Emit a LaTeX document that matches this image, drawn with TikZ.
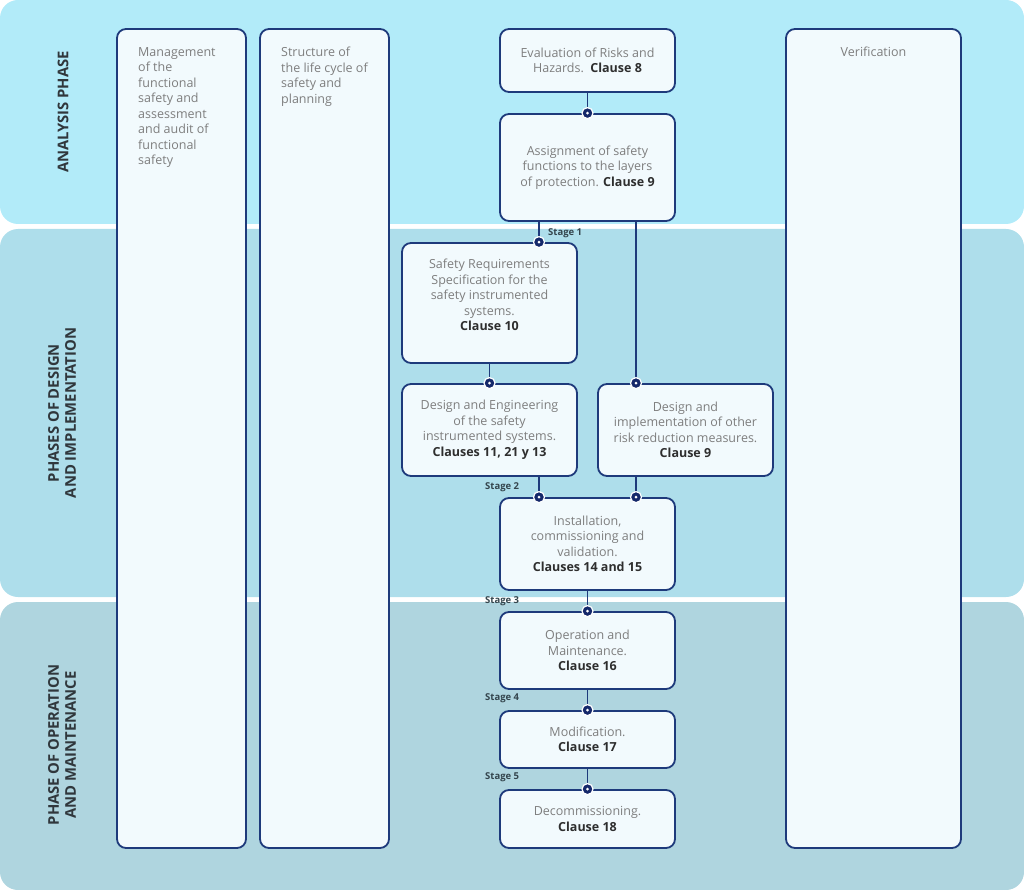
\documentclass[tikz,border=0pt]{standalone}
\usepackage{fontspec}
\setmainfont{Open Sans}
\usepackage{tikz}
\definecolor{bandA}{HTML}{B2EBF9}
\definecolor{bandB}{HTML}{AEDEEB}
\definecolor{bandC}{HTML}{AFD5DF}
\definecolor{boxfill}{HTML}{F2FAFD}
\definecolor{frame}{HTML}{1E3A7B}
\definecolor{dotblue}{HTML}{14286A}
\definecolor{bodygray}{HTML}{7E7E7E}
\definecolor{clausegray}{HTML}{2E2E2E}
\definecolor{stagegray}{HTML}{34454D}
\definecolor{phasegray}{HTML}{30373C}
\tikzset{
  band/.style     = {rounded corners=18pt},
  colbox/.style   = {draw=frame,fill=boxfill,line width=1.8pt,rounded corners=9pt,inner sep=0pt},
  flowbox/.style  = {colbox,minimum width=175pt,align=center,text=bodygray,
                     font=\fontsize{12.5}{15.5}\selectfont},
  bodytext/.style = {align=center,inner sep=0pt,text=bodygray,font=\fontsize{12.5}{15.5}\selectfont},
  coltext/.style  = {anchor=north west,align=left,inner sep=0pt,text=bodygray,
                     font=\fontsize{12.5}{15.5}\selectfont},
  link/.style     = {draw=frame,line width=1.2pt},
  dot/.style      = {circle,fill=dotblue,draw=white,line width=1.2pt,minimum size=11pt,inner sep=0pt,
                     path picture={\fill[white] (path picture bounding box.center) circle (1.5pt);}},
  stagelbl/.style = {anchor=west,inner sep=0pt,text=stagegray,font=\bfseries\fontsize{9.5}{10}\selectfont},
  phaselbl/.style = {rotate=90,align=center,inner sep=0pt,text=phasegray,
                     font=\bfseries\fontsize{14.8}{17}\selectfont}
}
\newcommand{\clause}[1]{\textbf{\textcolor{clausegray}{#1}}}

\begin{document}
\begin{tikzpicture}[x=1pt,y=-1pt]
  \useasboundingbox (0,0) rectangle (1024,890);
  % phase bands
  \fill[bandA,band] (0,0)   rectangle (1024,224);
  \fill[bandB,band] (0,229) rectangle (1024,597);
  \fill[bandC,band] (0,602) rectangle (1024,890);
  \node[phaselbl] (phaseA) at (63,112) {ANALYSIS PHASE};
  \node[phaselbl] (phaseB) at (62,413) {PHASES OF DESIGN\\AND IMPLEMENTATION};
  \node[phaselbl] (phaseC) at (62,745) {PHASE OF OPERATION\\AND MAINTENANCE};

  % tall columns
  \node[colbox,minimum width=129pt,minimum height=819pt] (mgmt)   at (181.5,438.5) {};
  \node[colbox,minimum width=129pt,minimum height=819pt] (struct) at (324.5,438.5) {};
  \node[colbox,minimum width=175pt,minimum height=819pt] (verif)  at (873.5,438.5) {};
  \node[coltext] (mgmttext)   at (138,47) {Management\\of the\\functional\\safety and\\assessment\\and audit of\\functional\\safety};
  \node[coltext] (structtext) at (281,47) {Structure of\\the life cycle of\\safety and\\planning};
  \node[bodytext] (veriftext) at (873.5,52) {Verification};

  % flow
  \node[flowbox,minimum height=63pt]  (eval)     at (587.5,60.5)  {Evaluation of Risks and\\Hazards.\ \ \clause{Clause 8}};
  \node[flowbox,minimum height=107pt] (assign)   at (587.5,167.5) {Assignment of safety\\functions to the layers\\of protection. \clause{Clause 9}};
  \node[flowbox,minimum height=120pt] (srs)      at (489.5,303)   {};
  \node[bodytext] (srstext) at (489.5,295) {Safety Requirements\\Specification for the\\safety instrumented\\systems.\\\clause{Clause 10}};
  \node[flowbox,minimum height=92pt]  (deseng)   at (489.5,430)   {Design and Engineering\\of the safety\\instrumented systems.\\\clause{Clauses 11, 21 y 13}};
  \node[flowbox,minimum height=92pt]  (desother) at (685.5,430)   {Design and\\implementation of other\\risk reduction measures.\\\clause{Clause 9}};
  \node[flowbox,minimum height=92pt]  (install)  at (587.5,544)   {Installation,\\commissioning and\\validation.\\\clause{Clauses 14 and 15}};
  \node[flowbox,minimum height=77pt]  (oper)     at (587.5,650.5) {Operation and\\Maintenance.\\\clause{Clause 16}};
  \node[flowbox,minimum height=57pt]  (modif)    at (587.5,739.5) {Modification.\\\clause{Clause 17}};
  \node[flowbox,minimum height=58pt]  (decom)    at (587.5,819)   {Decommissioning.\\\clause{Clause 18}};

  \draw[link] (eval.south) -- (assign.north) node[dot] (dotA) {};
  \draw[link] ([xshift=-48.5pt]assign.south) -- ([xshift=49.5pt]srs.north) node[dot] (dotB) {};
  \draw[link] ([xshift=48.5pt]assign.south) -- ([xshift=-49.5pt]desother.north) node[dot] (dotC) {};
  \draw[link] (srs.south) -- (deseng.north) node[dot] (dotD) {};
  \draw[link] ([xshift=49.5pt]deseng.south) -- ([xshift=-48.5pt]install.north) node[dot] (dotE) {};
  \draw[link] ([xshift=-49.5pt]desother.south) -- ([xshift=48.5pt]install.north) node[dot] (dotF) {};
  \draw[link] (install.south) -- (oper.north) node[dot] (dotG) {};
  \draw[link] (oper.south) -- (modif.north) node[dot] (dotH) {};
  \draw[link] (modif.south) -- (decom.north) node[dot] (dotI) {};

  \node[stagelbl] (stage1) at (548,233) {Stage 1};
  \node[stagelbl] (stage2) at (485,487) {Stage 2};
  \node[stagelbl] (stage3) at (485,601) {Stage 3};
  \node[stagelbl] (stage4) at (485,698) {Stage 4};
  \node[stagelbl] (stage5) at (485,777) {Stage 5};
\end{tikzpicture}
\end{document}
